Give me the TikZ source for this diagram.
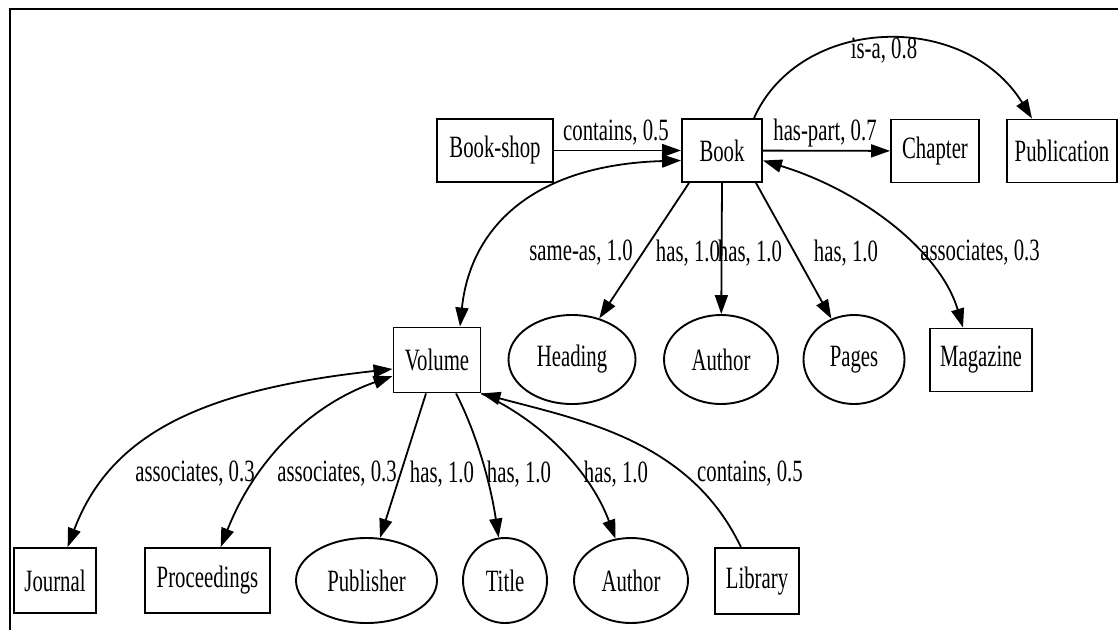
\documentclass[tikz,border=0pt]{standalone}
\usepackage{fontspec}
\setmainfont{Liberation Serif}
\usetikzlibrary{shapes.geometric,arrows.meta}
% condensed text, as in the drawing
\newcommand{\nar}[1]{\scalebox{0.67}[1]{#1}}

\begin{document}
\begin{tikzpicture}[x=1pt,y=-1pt,
  every node/.style={font=\fontsize{31}{34}\selectfont, inner sep=0pt},
  box/.style={draw, line width=1.9pt, rectangle},
  oval/.style={draw, line width=1.9pt, ellipse},
  link/.style={line width=1.8pt, -{Triangle[length=19pt,width=13pt]}},
  both/.style={line width=1.8pt, {Triangle[length=19pt,width=13pt]}-{Triangle[length=19pt,width=13pt]}},
]
\useasboundingbox (0,0) rectangle (1118,630);
\fill[white] (0,0) rectangle (1118,630);
% frame
\draw[line width=2pt] (10,630) -- (10,9) -- (1118,9);

% top row
\node[box, minimum width=116pt, minimum height=63pt] (bookshop) at (495,150.5) {\nar{Book-shop}};
\node[box, minimum width=80pt, minimum height=63pt] (book) at (722,150.5) {\nar{Book}};
\node[box, minimum width=88pt, minimum height=63pt] (chapter) at (935,151) {\nar{Chapter}};
\node[box, minimum width=110pt, minimum height=63pt] (publication) at (1062,151) {\nar{Publication}};

% middle row
\node[box, minimum width=87pt, minimum height=65pt] (volume) at (437,360) {\nar{Volume}};
\node[oval, minimum width=127pt, minimum height=89pt] (heading) at (572,359.5) {\nar{Heading}};
\node[oval, minimum width=114pt, minimum height=89pt] (author1) at (721,359.5) {\nar{Author}};
\node[oval, minimum width=101pt, minimum height=89pt] (pages) at (854,359.5) {\nar{Pages}};
\node[box, minimum width=102pt, minimum height=63pt] (magazine) at (981,360) {\nar{Magazine}};

% bottom row
\node[box, minimum width=82pt, minimum height=65pt] (journal) at (55,580.5) {\nar{Journal}};
\node[box, minimum width=125pt, minimum height=65pt] (proceedings) at (207.5,580.5) {\nar{Proceedings}};
\node[oval, minimum width=141pt, minimum height=85pt] (publisher) at (366.5,580.5) {\nar{Publisher}};
\node[oval, minimum width=84pt, minimum height=85pt] (title) at (505,580.5) {\nar{Title}};
\node[oval, minimum width=114pt, minimum height=85pt] (author2) at (631,580.5) {\nar{Author}};
\node[box, minimum width=84pt, minimum height=66pt] (library) at (757,581) {\nar{Library}};

% edges from Book
\draw[link] (bookshop) -- (book);
\draw[link] (book) -- (chapter);
\draw[link] ([xshift=32pt]book.north) .. controls (800,15) and (965,10) .. ([xshift=-30pt]publication.north);
\draw[both] ([yshift=-10pt]book.west) .. controls (530,165) and (470,230) .. ([xshift=23pt]volume.north);
\draw[link] ([xshift=-33pt]book.south) -- (heading);
\draw[link] (book.south) -- (author1);
\draw[link] ([xshift=34pt]book.south) -- (pages);
\draw[both] ([yshift=-10pt]book.east) .. controls (860,190) and (940,250) .. ([xshift=-18pt]magazine.north);

% edges from Volume
\draw[both] ([yshift=-9pt]volume.west) .. controls (200,390) and (110,435) .. (journal);
\draw[both] ([yshift=-16pt]volume.west) .. controls (310,405) and (255,460) .. (proceedings);
\draw[link] ([xshift=-11pt]volume.south) -- (publisher);
\draw[link] ([xshift=19pt]volume.south) .. controls (475,430) and (490,480) .. (title);
\draw[link] (volume.south east) .. controls (540,420) and (590,470) .. (author2);
\draw[link] (library) .. controls (690,440) and (580,420) .. (volume.south east);

% edge labels
\node (lcontains) at (616,133) {\nar{contains, 0.5}};
\node (lhaspart) at (825,133) {\nar{has-part, 0.7}};
\node (lisa) at (884,51) {\nar{is-a, 0.8}};
\node (lsameas) at (581,253) {\nar{same-as, 1.0}};
\node (lhasa) at (688,253) {\nar{has, 1.0}};
\node (lhasb) at (750,253) {\nar{has, 1.0}};
\node (lhasc) at (846,253) {\nar{has, 1.0}};
\node (lassocm) at (980,253) {\nar{associates, 0.3}};
\node (lassocj) at (195,474) {\nar{associates, 0.3}};
\node (lassocp) at (337,474) {\nar{associates, 0.3}};
\node (lhasp) at (442,474) {\nar{has, 1.0}};
\node (lhast) at (519,474) {\nar{has, 1.0}};
\node (lhasu) at (616,474) {\nar{has, 1.0}};
\node (lcontl) at (750,474) {\nar{contains, 0.5}};
\end{tikzpicture}
\end{document}
